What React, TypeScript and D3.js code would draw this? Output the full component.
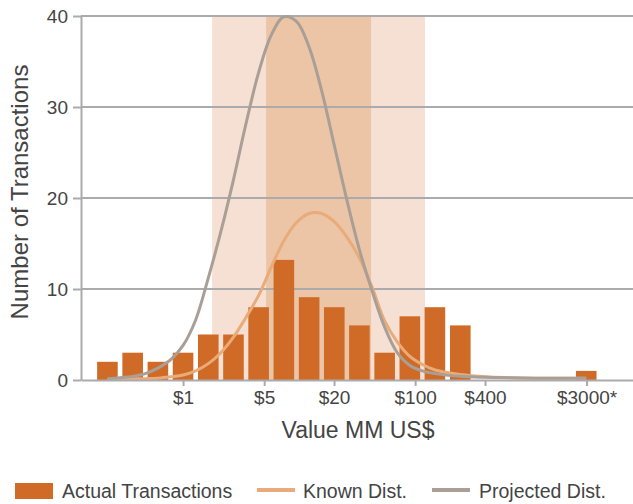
import * as d3 from "d3";
import { useEffect, useRef } from "react";

// histogram bins (bin centre in $MM, log-spaced) and transaction counts
const binCenters = [0.223, 0.368, 0.607, 1, 1.65, 2.72, 4.48, 7.39, 12.2, 20.1, 33.1, 54.6, 90, 148, 245, 403, 665, 1097, 1808, 2981];
const counts = [2, 3, 2, 3, 5, 5, 8, 13.2, 9.1, 8, 6, 3, 7, 8, 6, 0, 0, 0, 0, 1];

// distribution curves, sampled at these $MM values
const curveX = [0.223, 0.287, 0.368, 0.472, 0.607, 0.779, 1, 1.284, 1.649, 2.117, 2.718, 3.49, 4.482, 5.755, 7.389, 9.488, 12.18, 15.64, 20.09, 25.79, 33.12, 42.52, 54.6, 70.1, 90.02, 115.6, 148.4, 244.7, 403.4, 665.1, 1097, 1808, 2981];
const knownDist = [0.05, 0.08, 0.12, 0.15, 0.2, 0.35, 0.55, 1.0, 1.8, 3.0, 4.7, 6.9, 9.3, 12.4, 15.3, 17.3, 18.3, 18.3, 17.4, 15.7, 13.4, 10.2, 6.5, 4.2, 2.6, 1.7, 1.1, 0.6, 0.35, 0.25, 0.2, 0.2, 0.2];
const projectedDist = [0.15, 0.25, 0.4, 0.7, 1.3, 2.2, 3.8, 6.6, 11.2, 16.3, 22.0, 28.2, 33.8, 37.9, 39.9, 39.4, 36.6, 31.8, 25.8, 19.8, 14.3, 9.8, 5.8, 3.0, 1.6, 1.0, 0.7, 0.4, 0.3, 0.25, 0.2, 0.2, 0.2];

// shaded ranges ($MM)
const outerBand = [1.78, 121.5];
const innerBand = [5.2, 41.7];

const xTickValues = [1, 5, 20, 100, 400, 3000];
const xTickLabels = ["$1", "$5", "$20", "$100", "$400", "$3000*"];
const yTickValues = [0, 10, 20, 30, 40];

const legendItems = ["Actual Transactions", "Known Dist.", "Projected Dist."];

const BAR = "#d06b27";
const KNOWN = "#e8ab79";
const PROJ = "#a99f96";
const GRID = "#ababad";
const TEXT = "#444";
const FONT = "'Liberation Sans', Arial, sans-serif";

export default function App() {
    const svgRef = useRef<SVGSVGElement | null>(null);

    useEffect(() => {
        if (!svgRef.current) return;
        const svg = d3.select(svgRef.current);
        svg.selectAll("*").remove();

        const W = 633;
        const left = 81;
        const top = 16;
        const bottom = 380;

        const x = d3.scaleLog().domain([0.132, 7540]).range([left, W]);
        const y = d3.scaleLinear().domain([0, 40]).range([bottom, top]);

        // bands
        svg.append("rect")
            .attr("x", x(outerBand[0]))
            .attr("y", top)
            .attr("width", x(outerBand[1]) - x(outerBand[0]))
            .attr("height", bottom - top)
            .attr("fill", "#f6e0d3");
        svg.append("rect")
            .attr("x", x(innerBand[0]))
            .attr("y", top)
            .attr("width", x(innerBand[1]) - x(innerBand[0]))
            .attr("height", bottom - top)
            .attr("fill", "#ebc5a6");

        // gridlines
        svg.append("g")
            .selectAll("line")
            .data(yTickValues.filter((d) => d > 0))
            .join("line")
            .attr("x1", left)
            .attr("x2", W)
            .attr("y1", (d) => y(d))
            .attr("y2", (d) => y(d))
            .attr("stroke", GRID)
            .attr("stroke-width", 2);

        // bars
        const half = 10.3;
        svg.append("g")
            .selectAll("rect")
            .data(counts.map((c, i) => ({ c, v: binCenters[i] })).filter((d) => d.c > 0))
            .join("rect")
            .attr("x", (d) => x(d.v) - half)
            .attr("width", half * 2)
            .attr("y", (d) => y(d.c))
            .attr("height", (d) => bottom - y(d.c))
            .attr("fill", BAR);

        const line = d3
            .line<number>()
            .x((d, i) => x(curveX[i]))
            .y((d) => y(d))
            .curve(d3.curveCatmullRom.alpha(0.5));

        svg.append("path")
            .datum(knownDist)
            .attr("fill", "none")
            .attr("stroke", KNOWN)
            .attr("stroke-width", 3)
            .attr("d", line);

        svg.append("path")
            .datum(projectedDist)
            .attr("fill", "none")
            .attr("stroke", PROJ)
            .attr("stroke-width", 3)
            .attr("d", line);

        // axes
        const xAxis = svg.append("g")
            .attr("transform", `translate(0,${bottom})`)
            .call(
                d3.axisBottom(x)
                    .tickValues(xTickValues)
                    .tickFormat((d, i) => xTickLabels[i])
                    .tickSizeInner(6)
                    .tickSizeOuter(0)
                    .tickPadding(5)
            );
        const yAxis = svg.append("g")
            .attr("transform", `translate(${left},0)`)
            .call(
                d3.axisLeft(y)
                    .tickValues(yTickValues)
                    .tickSizeInner(8)
                    .tickSizeOuter(0)
                    .tickPadding(5)
            );
        [xAxis, yAxis].forEach((a) => {
            a.select(".domain").attr("stroke", GRID).attr("stroke-width", 2);
            a.selectAll(".tick line").attr("stroke", GRID).attr("stroke-width", 2);
            a.selectAll(".tick text")
                .attr("fill", TEXT)
                .style("font-family", FONT)
                .style("font-size", "19px");
        });

        // axis titles
        svg.append("text")
            .attr("x", (left + W) / 2 + 1)
            .attr("y", 438)
            .attr("text-anchor", "middle")
            .attr("fill", TEXT)
            .style("font-family", FONT)
            .style("font-size", "23px")
            .text("Value MM US$");
        svg.append("text")
            .attr("transform", `translate(28,${(top + bottom) / 2 - 6}) rotate(-90)`)
            .attr("text-anchor", "middle")
            .attr("fill", TEXT)
            .style("font-family", FONT)
            .style("font-size", "24px")
            .text("Number of Transactions");

        // legend
        const lg = svg.append("g").style("font-family", FONT).style("font-size", "19.5px");
        lg.append("rect").attr("x", 15).attr("y", 483).attr("width", 38).attr("height", 16).attr("fill", BAR);
        lg.append("text").attr("x", 62).attr("y", 498).attr("fill", TEXT).text(legendItems[0]);
        lg.append("line").attr("x1", 257).attr("x2", 295).attr("y1", 490).attr("y2", 490)
            .attr("stroke", KNOWN).attr("stroke-width", 4);
        lg.append("text").attr("x", 303).attr("y", 498).attr("fill", TEXT).text(legendItems[1]);
        lg.append("line").attr("x1", 432).attr("x2", 470).attr("y1", 490).attr("y2", 490)
            .attr("stroke", PROJ).attr("stroke-width", 4);
        lg.append("text").attr("x", 479).attr("y", 498).attr("fill", TEXT).text(legendItems[2]);
    }, []);

    return (
        <svg
            ref={svgRef}
            width={633}
            height={504}
            style={{ position: "absolute", left: 0, top: 0, background: "#fff" }}
        />
    );
}
